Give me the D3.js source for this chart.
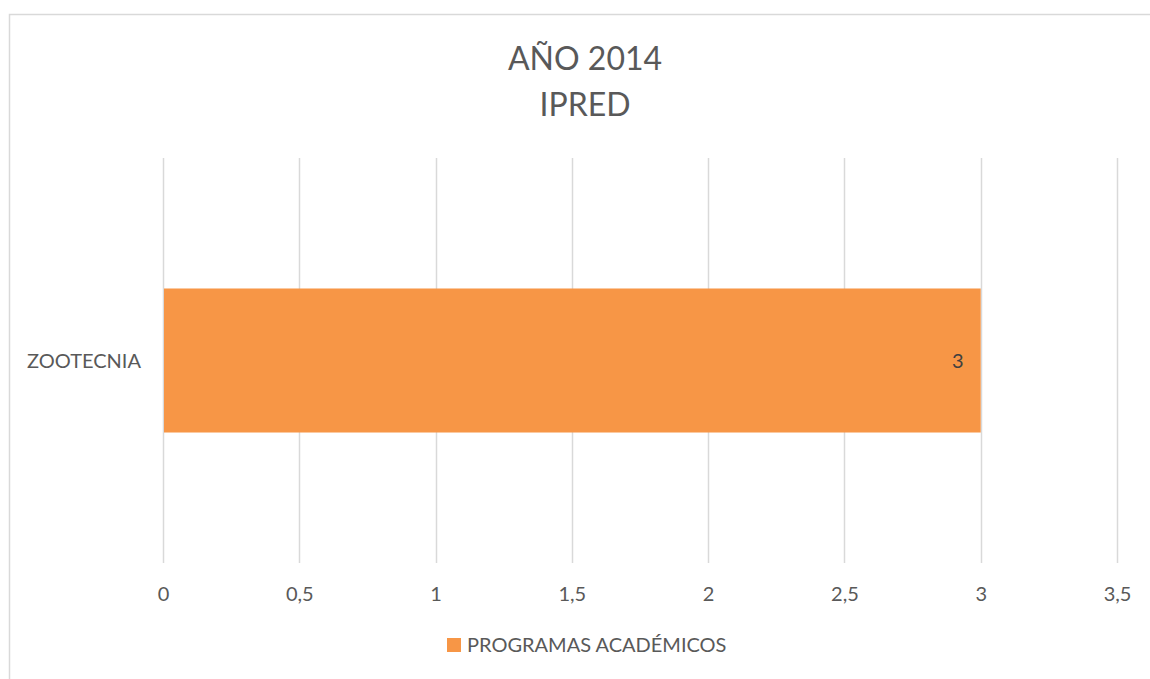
<!DOCTYPE html>
<html>
<head>
<meta charset="utf-8">
<script src="https://cdn.jsdelivr.net/npm/d3@7"></script>
<style>
  html, body { margin: 0; padding: 0; background: #ffffff; }
  svg { display: block; }
  text { font-family: Lato, "Open Sans", sans-serif; fill: #595959; }
</style>
</head>
<body>
<svg id="chart" width="1150" height="679"></svg>
<script>
// Chart data
const titleLines = ["AÑO 2014", "IPRED"];
const categories = ["ZOOTECNIA"];
const seriesName = "PROGRAMAS ACADÉMICOS";
const seriesValues = [3];
const xTicks = [0, 0.5, 1, 1.5, 2, 2.5, 3, 3.5];
const xTickLabels = ["0", "0,5", "1", "1,5", "2", "2,5", "3", "3,5"];
const barColor = "#F79646";

const svg = d3.select("#chart");

// Chart area frame
svg.append("rect")
  .attr("x", 9.5).attr("y", 14.5)
  .attr("width", 1160).attr("height", 700)
  .attr("fill", "#fff")
  .attr("stroke", "#d9d9d9").attr("stroke-width", 1.5);

const plot = { left: 163, right: 1117, top: 158, bottom: 563 };

const x = d3.scaleLinear().domain([0, 3.5]).range([plot.left, plot.right]);
const y = d3.scaleBand().domain(categories).range([plot.top, plot.bottom]).paddingInner(0).paddingOuter(0.906);

// Title
svg.append("g").selectAll("text").data(titleLines).join("text")
  .attr("x", 585).attr("y", (d, i) => 70 + i * 46)
  .attr("text-anchor", "middle")
  .attr("font-size", 32)
  .text(d => d);

// Vertical gridlines
svg.append("g").selectAll("line").data(xTicks).join("line")
  .attr("x1", d => Math.round(x(d)) + 0.5).attr("x2", d => Math.round(x(d)) + 0.5)
  .attr("y1", plot.top).attr("y2", plot.bottom)
  .attr("stroke", "#d9d9d9").attr("stroke-width", 1.5);

// Bars
svg.append("g").selectAll("rect").data(seriesValues).join("rect")
  .attr("x", x(0) + 1)
  .attr("y", (d, i) => y(categories[i]))
  .attr("width", d => x(d) - x(0) - 1)
  .attr("height", y.bandwidth())
  .attr("fill", barColor);

// Value labels
svg.append("g").selectAll("text").data(seriesValues).join("text")
  .attr("x", d => x(d) - 17)
  .attr("y", (d, i) => y(categories[i]) + y.bandwidth() / 2)
  .attr("dy", "0.35em")
  .attr("text-anchor", "end")
  .attr("font-size", 20)
  .style("fill", "#404040")
  .text(d => String(d));

// X axis tick labels
const xAxis = d3.axisBottom(x).tickValues(xTicks)
  .tickFormat((d, i) => xTickLabels[i]).tickSize(0).tickPadding(0);
const gx = svg.append("g").attr("transform", `translate(0,${plot.bottom})`).call(xAxis);
gx.select(".domain").remove();
gx.selectAll("text")
  .attr("y", 31).attr("dy", "0.35em")
  .attr("font-size", 20)
  .attr("font-family", null)
  .attr("fill", null);

// Y axis category labels
const yAxis = d3.axisLeft(y).tickSize(0).tickPadding(0);
const gy = svg.append("g").attr("transform", `translate(141,0)`).call(yAxis);
gy.select(".domain").remove();
gy.selectAll("text")
  .attr("x", 0).attr("dy", "0.35em")
  .attr("font-size", 20)
  .attr("font-family", null)
  .attr("fill", null);

// Legend
const legend = svg.append("g").attr("transform", "translate(447,638)");
legend.append("rect").attr("width", 14).attr("height", 14).attr("fill", barColor);
legend.append("text").attr("x", 20).attr("y", 7).attr("dy", "0.35em")
  .attr("font-size", 20).text(seriesName);
</script>
</body>
</html>
